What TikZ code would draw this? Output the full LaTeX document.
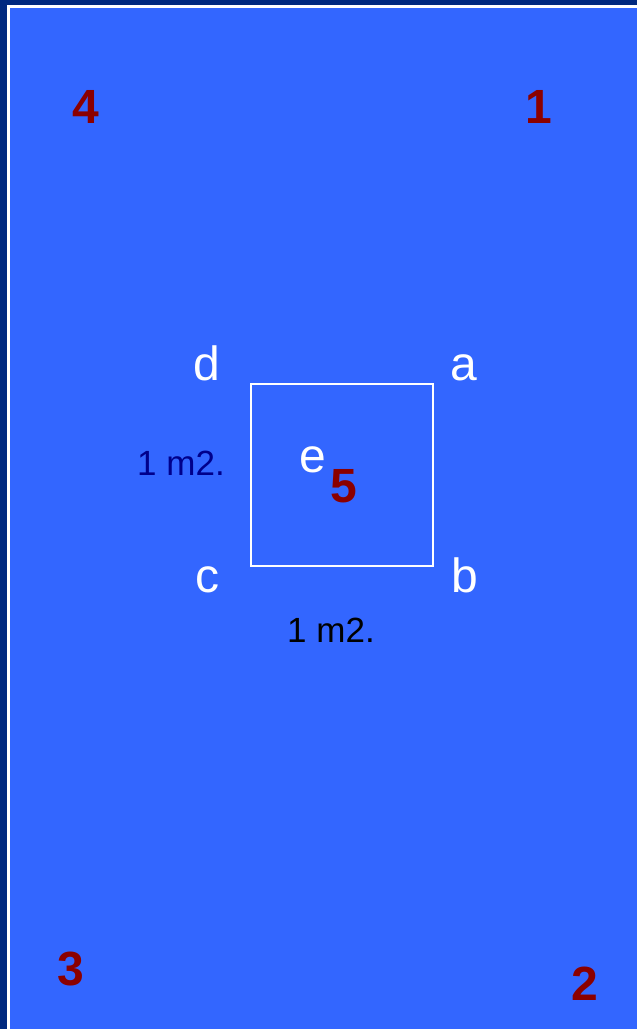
\documentclass[tikz,border=0pt]{standalone}
\usepackage{fontspec}
\setmainfont{Liberation Sans}[BoldFont={Liberation Sans Bold}]
\definecolor{navyframe}{HTML}{00297F}
\definecolor{fieldblue}{HTML}{3366FF}
\definecolor{markred}{HTML}{8B0000}
\definecolor{dimnavy}{HTML}{00008B}
\begin{document}
\begin{tikzpicture}[x=1pt,y=-1pt,
  corner/.style={anchor=base,inner sep=0pt,text=white,font=\fontsize{48}{48}\selectfont},
  marker/.style={anchor=base,inner sep=0pt,text=markred,font=\bfseries\fontsize{48}{48}\selectfont},
  measure/.style={anchor=base,inner sep=0pt,font=\fontsize{35}{35}\selectfont}]
  \useasboundingbox (0,0) rectangle (637,1029);
  % frame and field
  \fill[navyframe] (0,0) rectangle (637,1029);
  \fill[white] (7,5) rectangle (637,1029);
  \fill[fieldblue] (10,8) rectangle (637,1029);
  % the unit square
  \draw[white,line width=2pt] (251,384) rectangle (433,566);
  % corner letters
  \node[corner] (d) at (207,380) {d};
  \node[corner] (a) at (464,380) {a};
  \node[corner] (c) at (207,592) {c};
  \node[corner] (b) at (465,592) {b};
  \node[corner] (e) at (313,472) {e};
  % numbered points
  \node[marker] (p4) at (86,123) {4};
  \node[marker] (p1) at (539,123) {1};
  \node[marker] (p3) at (71,985) {3};
  \node[marker] (p2) at (585,1000) {2};
  \node[marker] (p5) at (344,502) {5};
  % side measures
  \node[measure,text=dimnavy] (mleft) at (181,475) {1 m2.};
  \node[measure,text=black] (mbottom) at (331,642) {1 m2.};
\end{tikzpicture}
\end{document}
